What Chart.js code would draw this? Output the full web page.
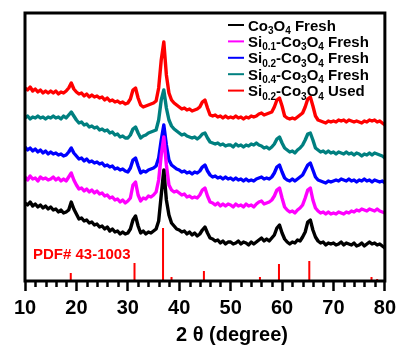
<!DOCTYPE html>
<html>
<head>
<meta charset="utf-8">
<script src="https://cdn.jsdelivr.net/npm/chart.js@4"></script>
<style>
  html, body { margin: 0; padding: 0; background: #fff; }
  #wrap { width: 401px; height: 346px; }
</style>
</head>
<body>
<div id="wrap"><canvas id="xrdChart" width="401" height="346"></canvas></div>
<script>
// 2 theta grid (degrees)
const twoTheta = [
  10,10.5,11,11.5,12,12.5,13,13.5,14,14.5,
  15,15.5,16,16.5,17,17.5,18,18.5,19,19.5,
  20,20.5,21,21.5,22,22.5,23,23.5,24,24.5,
  25,25.5,26,26.5,27,27.5,28,28.5,29,29.5,
  30,30.5,31,31.5,32,32.5,33,33.5,34,34.5,
  35,35.5,36,36.5,37,37.5,38,38.5,39,39.5,
  40,40.5,41,41.5,42,42.5,43,43.5,44,44.5,
  45,45.5,46,46.5,47,47.5,48,48.5,49,49.5,
  50,50.5,51,51.5,52,52.5,53,53.5,54,54.5,
  55,55.5,56,56.5,57,57.5,58,58.5,59,59.5,
  60,60.5,61,61.5,62,62.5,63,63.5,64,64.5,
  65,65.5,66,66.5,67,67.5,68,68.5,69,69.5,
  70,70.5,71,71.5,72,72.5,73,73.5,74,74.5,
  75,75.5,76,76.5,77,77.5,78,78.5,79,79.5,
  80
];

// intensities (a.u., curves already offset as in the figure)
const co3o4Fresh = [
  78,76,79,75,77,74,76,73,75,72,
  74,71,72,69,71,68,69,71,79,72,
  67,62,63,60,61,58,59,56,57,54,
  55,52,54,50,52,49,50,47,49,47,
  48,52,61,65,55,48,50,47,49,48,
  50,52,60,86,111,81,66,58,55,52,
  51,49,50,47,49,46,48,45,47,51,
  54,48,43,42,40,41,38,40,37,39,
  39,37,38,40,37,39,38,36,39,37,
  39,41,43,40,42,40,43,46,53,56,
  48,42,39,37,39,38,41,40,44,49,
  59,61,51,44,40,38,39,36,38,37,
  38,36,37,39,36,38,37,36,38,35,
  36,38,35,37,39,37,38,36,37,35,
  33
];
const si01Fresh = [
  104,101,105,102,103,100,104,102,103,101,
  102,104,101,103,100,102,100,104,108,101,
  96,92,93,90,92,89,91,88,90,87,
  88,85,86,83,84,81,82,79,81,78,
  80,83,96,99,86,80,83,82,85,84,
  86,89,101,126,144,116,96,91,89,90,
  88,86,87,84,85,83,84,83,86,91,
  93,85,79,78,76,78,75,77,75,77,
  76,74,77,75,76,74,77,75,76,74,
  77,79,80,77,78,79,81,85,91,93,
  83,74,71,69,70,68,71,73,76,83,
  91,93,81,73,70,68,69,67,69,67,
  68,67,69,68,67,69,68,70,69,71,
  70,72,71,70,72,71,70,72,70,69,
  68
];
const si02Fresh = [
  134,131,133,130,132,129,131,128,130,127,
  129,127,128,126,127,125,126,129,133,128,
  125,122,123,120,122,119,120,118,119,117,
  118,115,116,114,115,112,113,111,112,110,
  109,113,121,123,115,108,110,109,111,112,
  113,115,123,141,156,136,121,116,114,112,
  111,109,110,108,109,107,109,108,110,114,
  116,110,106,104,105,103,104,102,104,102,
  103,101,103,101,102,100,102,100,101,100,
  102,103,104,102,103,102,104,108,114,116,
  109,103,101,100,102,100,102,104,106,111,
  116,118,111,104,101,100,99,98,100,99,
  100,101,100,102,101,100,102,100,101,99,
  101,100,102,100,101,99,101,100,99,100,
  98
];
const si04Fresh = [
  163,165,162,164,163,165,163,164,162,164,
  163,165,163,164,162,165,163,166,169,165,
  161,158,159,156,157,154,155,153,154,151,
  152,150,151,148,149,146,147,144,145,143,
  143,146,152,154,148,143,145,146,148,149,
  150,151,161,181,191,173,161,155,152,150,
  148,146,147,145,144,143,144,142,144,147,
  148,143,139,138,137,138,136,137,135,136,
  136,134,137,135,136,134,136,135,137,136,
  138,136,135,133,134,132,134,137,142,144,
  138,133,131,129,130,128,131,133,136,141,
  147,148,141,133,131,129,130,128,130,128,
  129,127,129,128,127,129,127,128,126,128,
  127,125,127,126,128,126,128,127,126,125,
  123
];
const si02Used = [
  193,191,194,190,192,189,191,188,190,188,
  190,188,190,187,189,188,190,193,198,192,
  189,187,188,185,187,184,186,184,185,183,
  184,181,183,180,181,179,180,178,179,177,
  178,182,191,193,183,176,174,175,176,177,
  178,180,193,221,239,206,188,181,178,176,
  174,172,173,171,172,170,171,172,174,179,
  181,173,166,165,166,164,165,163,165,163,
  164,163,165,163,164,162,164,163,165,164,
  165,167,168,166,167,168,169,174,181,183,
  175,165,163,162,163,162,164,166,168,174,
  182,184,175,165,161,160,159,158,160,159,
  160,159,161,160,161,159,161,160,159,160,
  159,158,160,159,161,160,161,159,160,158,
  156
];

// reference pattern PDF# 43-1003
const stickPos = [18.9, 31.3, 36.85, 38.5, 44.8, 55.7, 59.4, 65.3, 74.1, 77.4, 78.5];
const stickHeight = [8, 18, 53, 4, 10, 4, 17, 20, 1, 4, 2];

const xTicks = [10, 20, 30, 40, 50, 60, 70, 80];
const minorTicks = [12,14,16,18,22,24,26,28,32,34,36,38,42,44,46,48,52,54,56,58,62,64,66,68,72,74,76,78];

const seriesColors = ['#000000', '#ff00ff', '#0000ff', '#008080', '#ff0000'];
// legend text pieces: [text, isSubscript]
const legendParts = [
  [['Co',0],['3',1],['O',0],['4',1],[' Fresh',0]],
  [['Si',0],['0.1',1],['-Co',0],['3',1],['O',0],['4',1],[' Fresh',0]],
  [['Si',0],['0.2',1],['-Co',0],['3',1],['O',0],['4',1],[' Fresh',0]],
  [['Si',0],['0.4',1],['-Co',0],['3',1],['O',0],['4',1],[' Fresh',0]],
  [['Si',0],['0.2',1],['-Co',0],['3',1],['O',0],['4',1],[' Used',0]]
];
const seriesLabels = ['Co3O4 Fresh','Si0.1-Co3O4 Fresh','Si0.2-Co3O4 Fresh','Si0.4-Co3O4 Fresh','Si0.2-Co3O4 Used'];
const seriesData = [co3o4Fresh, si01Fresh, si02Fresh, si04Fresh, si02Used];

const toPoints = arr => twoTheta.map((x, i) => ({x: x, y: arr[i]}));

const datasets = seriesData.map((arr, i) => ({
  label: seriesLabels[i],
  data: toPoints(arr),
  borderColor: seriesColors[i],
  borderWidth: 3.4,
  borderJoinStyle: 'round',
  borderCapStyle: 'round',
  pointRadius: 0,
  tension: 0,
  showLine: true
}));

const stickData = [];
stickPos.forEach((p, i) => {
  stickData.push({x: p, y: 0}, {x: p, y: stickHeight[i]}, {x: p, y: null});
});
datasets.push({
  label: 'PDF# 43-1003',
  data: stickData,
  borderColor: '#ff0000',
  borderWidth: 2,
  pointRadius: 0,
  showLine: true,
  spanGaps: false
});

const FONT = '"Liberation Sans", Arial, sans-serif';

const decorPlugin = {
  id: 'decor',
  afterDraw(chart) {
    const ctx = chart.ctx;
    const a = chart.chartArea;
    const xs = chart.scales.x;
    ctx.save();
    // frame
    ctx.strokeStyle = '#000';
    ctx.lineWidth = 3;
    ctx.strokeRect(a.left, a.top, a.right - a.left, a.bottom - a.top);
    // minor ticks
    ctx.lineWidth = 2.5;
    minorTicks.forEach(v => {
      const px = Math.round(xs.getPixelForValue(v)) + 0.5;
      ctx.beginPath();
      ctx.moveTo(px, a.bottom);
      ctx.lineTo(px, a.bottom + 6);
      ctx.stroke();
    });
    // legend
    legendParts.forEach((parts, i) => {
      const cy = 25 + i * 16.4;
      ctx.strokeStyle = seriesColors[i];
      ctx.lineWidth = 2;
      ctx.beginPath();
      ctx.moveTo(228, cy);
      ctx.lineTo(244, cy);
      ctx.stroke();
      let x = 248;
      ctx.fillStyle = '#000';
      ctx.textBaseline = 'alphabetic';
      parts.forEach(([t, sub]) => {
        ctx.font = sub ? 'bold 10px ' + FONT : 'bold 15px ' + FONT;
        ctx.fillText(t, x, cy + 5.5 + (sub ? 3.5 : 0));
        x += ctx.measureText(t).width;
      });
    });
    // reference label
    ctx.fillStyle = '#ff0000';
    ctx.font = 'bold 15px ' + FONT;
    ctx.fillText('PDF# 43-1003', 33, 259);
    // axis title
    ctx.fillStyle = '#000';
    ctx.font = 'bold 20px ' + FONT;
    ctx.textAlign = 'center';
    ctx.fillText('2 \u03b8 (degree)', 232, 341);
    ctx.restore();
  }
};

new Chart(document.getElementById('xrdChart'), {
  type: 'scatter',
  data: { datasets: datasets },
  options: {
    responsive: false,
    animation: false,
    layout: { padding: { left: 25, right: 14, top: 13, bottom: 0 } },
    plugins: { legend: { display: false }, tooltip: { enabled: false } },
    scales: {
      x: {
        type: 'linear',
        min: 10,
        max: 80,
        afterBuildTicks: scale => { scale.ticks = xTicks.map(v => ({value: v})); },
        afterFit: scale => { scale.height = 65; },
        ticks: { color: '#000', font: { family: FONT, size: 20, weight: 'bold' }, padding: 5, maxRotation: 0 },
        grid: { drawOnChartArea: false, tickLength: 10, tickWidth: 2.5, tickColor: '#000' },
        border: { display: false }
      },
      y: {
        display: false,
        min: 0,
        max: 268
      }
    }
  },
  plugins: [decorPlugin]
});
</script>
</body>
</html>
